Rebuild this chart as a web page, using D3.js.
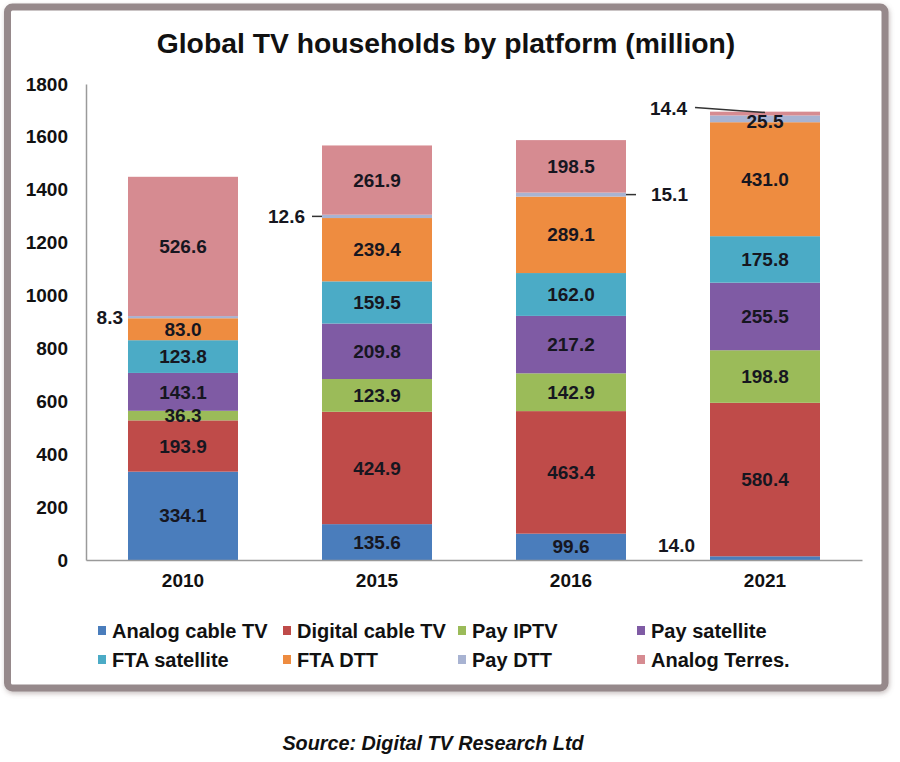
<!DOCTYPE html>
<html>
<head>
<meta charset="utf-8">
<script src="https://cdn.jsdelivr.net/npm/d3@7"></script>
<style>
  body { margin: 0; background: #fff; }
  svg { display: block; font-family: "Liberation Sans", Arial, Helvetica, sans-serif; }
</style>
</head>
<body>
<svg id="chart" width="900" height="762"></svg>
<script>
// chart data, stacked bottom -> top
var years = ["2010", "2015", "2016", "2021"];
var platforms = ["Analog cable TV", "Digital cable TV", "Pay IPTV", "Pay satellite",
                 "FTA satellite", "FTA DTT", "Pay DTT", "Analog Terres."];
var analogCable  = [334.1, 135.6, 99.6, 14.0];
var digitalCable = [193.9, 424.9, 463.4, 580.4];
var payIptv      = [36.3, 123.9, 142.9, 198.8];
var paySatellite = [143.1, 209.8, 217.2, 255.5];
var ftaSatellite = [123.8, 159.5, 162.0, 175.8];
var ftaDtt       = [83.0, 239.4, 289.1, 431.0];
var payDtt       = [8.3, 12.6, 15.1, 25.5];
var analogTerres = [526.6, 261.9, 198.5, 14.4];
var yTicks = [0, 200, 400, 600, 800, 1000, 1200, 1400, 1600, 1800];
var colors = ["#4a7dbc", "#bf4b49", "#9bbb59", "#7f5ba4", "#4babc6", "#ee8c40", "#a8b3d2", "#d68b91"];

var seriesValues = [analogCable, digitalCable, payIptv, paySatellite,
                    ftaSatellite, ftaDtt, payDtt, analogTerres];

var rows = years.map(function(y, i) {
    var r = { year: y };
    platforms.forEach(function(p, k) { r[p] = seriesValues[k][i]; });
    return r;
});

var svg = d3.select("#chart");

// frame with shadow
var defs = svg.append("defs");
var f = defs.append("filter").attr("id", "shadow").attr("x", "-5%").attr("y", "-5%")
    .attr("width", "110%").attr("height", "110%");
f.append("feDropShadow").attr("dx", 1).attr("dy", 2).attr("stdDeviation", 2.5)
    .attr("flood-color", "#806d70").attr("flood-opacity", 0.45);

svg.append("rect")
    .attr("x", 7.5).attr("y", 7).attr("width", 877.5).attr("height", 681)
    .attr("rx", 5)
    .attr("fill", "#fff")
    .attr("stroke", "#96898b")
    .attr("stroke-width", 7)
    .attr("filter", "url(#shadow)");

var x = d3.scaleBand().domain(years).range([86, 862])
    .paddingInner(0.433).paddingOuter(0.2165);
var y = d3.scaleLinear().domain([0, 1800]).range([560, 84]);

var stack = d3.stack().keys(platforms)(rows);

// title
svg.append("text")
    .attr("x", 446).attr("y", 53)
    .attr("text-anchor", "middle")
    .attr("font-size", 28.3).attr("font-weight", "bold").attr("fill", "#111")
    .text("Global TV households by platform (million)");

// bars
var layers = svg.append("g").selectAll("g")
    .data(stack).join("g")
    .attr("fill", function(d, i) { return colors[i]; });

layers.selectAll("rect")
    .data(function(d) { return d; })
    .join("rect")
    .attr("x", function(d) { return x(d.data.year); })
    .attr("width", x.bandwidth())
    .attr("y", function(d) { return y(d[1]); })
    .attr("height", function(d) { return y(d[0]) - y(d[1]); });

// axes
var yAxis = svg.append("g")
    .attr("transform", "translate(86,0)")
    .call(d3.axisLeft(y).tickValues(yTicks).tickFormat(d3.format("d")).tickSize(0).tickPadding(18));
yAxis.select(".domain").attr("stroke", "#9a9a9a").attr("stroke-width", 1.5);
yAxis.selectAll("text").attr("font-size", 19).attr("font-weight", "bold")
    .attr("fill", "#111").attr("font-family", "Liberation Sans, Arial, sans-serif");

var xAxis = svg.append("g")
    .attr("transform", "translate(0,560)")
    .call(d3.axisBottom(x).tickSize(0).tickPadding(14));
xAxis.select(".domain").attr("stroke", "#9a9a9a").attr("stroke-width", 1.5);
xAxis.selectAll("text").attr("font-size", 19).attr("font-weight", "bold")
    .attr("fill", "#111").attr("font-family", "Liberation Sans, Arial, sans-serif");

// value labels: inside, except thin slices that get a callout
var outside = {
    "2010|Pay DTT": { side: "left", gap: 5, line: 0 },
    "2015|Pay DTT": { side: "left", gap: 17, line: 10 },
    "2016|Pay DTT": { side: "right", gap: 25, line: 10 },
    "2021|Analog Terres.": { side: "left", gap: 23, line: 0, lead: true },
    "2021|Analog cable TV": { side: "left", gap: 15, line: 0, dy: -13 }
};

var labels = svg.append("g").attr("font-size", 19).attr("font-weight", "bold").attr("fill", "#161620");

stack.forEach(function(layer) {
    layer.forEach(function(d) {
        var yr = d.data.year, key = yr + "|" + layer.key;
        var v = d[1] - d[0];
        var cy = (y(d[0]) + y(d[1])) / 2;
        var o = outside[key];
        if (!o) {
            labels.append("text")
                .attr("x", x(yr) + x.bandwidth() / 2)
                .attr("y", cy + (layer.key === "Pay DTT" ? 3 : 0))
                .attr("dy", "0.35em")
                .attr("text-anchor", "middle")
                .text(v.toFixed(1));
            return;
        }
        var left = x(yr), right = x(yr) + x.bandwidth();
        var ty = cy + (o.dy || 0);
        if (o.lead) {
            ty = cy - 5;
            labels.append("line")
                .attr("x1", left - 15).attr("y1", ty - 1)
                .attr("x2", left + x.bandwidth() / 2).attr("y2", cy - 1)
                .attr("stroke", "#333").attr("stroke-width", 1.5);
        } else if (o.line) {
            var lx1 = o.side === "left" ? left - o.line : right;
            labels.append("line")
                .attr("x1", lx1).attr("y1", cy)
                .attr("x2", lx1 + o.line).attr("y2", cy)
                .attr("stroke", "#333").attr("stroke-width", 1.5);
        }
        labels.append("text")
            .attr("x", o.side === "left" ? left - o.gap : right + o.gap)
            .attr("y", ty)
            .attr("dy", "0.35em")
            .attr("text-anchor", o.side === "left" ? "end" : "start")
            .text(v.toFixed(1));
    });
});

// legend, 4 columns x 2 rows
var legendCols = [98, 283, 458, 637];
var legendRows = [631, 660];
var legend = svg.append("g").attr("font-size", 20).attr("font-weight", "bold").attr("fill", "#111");
platforms.forEach(function(p, i) {
    var lx = legendCols[i % 4], ly = legendRows[Math.floor(i / 4)];
    legend.append("rect").attr("x", lx).attr("y", ly - 5).attr("width", 8).attr("height", 9)
        .attr("fill", colors[i]);
    legend.append("text").attr("x", lx + 14).attr("y", ly).attr("dy", "0.35em").text(p);
});

// source
svg.append("text")
    .attr("x", 433).attr("y", 750)
    .attr("text-anchor", "middle")
    .attr("font-size", 19.8).attr("font-weight", "bold").attr("font-style", "italic")
    .attr("fill", "#111")
    .text("Source: Digital TV Research Ltd");
</script>
</body>
</html>
